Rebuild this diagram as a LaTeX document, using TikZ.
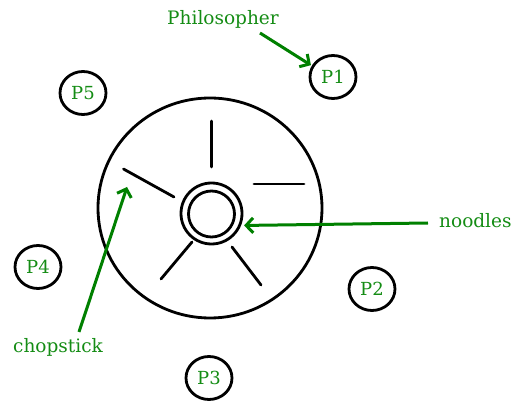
\documentclass[tikz,border=0pt]{standalone}
\usepackage{fontspec}
\setmainfont{DejaVu Serif}
\usetikzlibrary{shapes.geometric,arrows.meta,calc}
\definecolor{grn}{RGB}{0,128,0}
\definecolor{grntxt}{RGB}{20,140,20}
\begin{document}
\begin{tikzpicture}[x=1pt,y=-1pt,
  phil/.style={draw=black,line width=2.8pt,ellipse,inner sep=0pt,minimum width=46pt,minimum height=43pt,text=grntxt,font=\fontsize{18}{18}\selectfont},
  lbl/.style={text=grntxt,inner sep=0pt,font=\fontsize{18.5}{18.5}\selectfont},
  stick/.style={line width=2.8pt,line cap=round},
  garrow/.style={draw=grn,line width=3pt,-{Straight Barb[length=7pt,width=15pt,line width=3pt]}}]
\useasboundingbox (0,0) rectangle (512,403);
% table
\node[draw,line width=2.8pt,ellipse,minimum width=224pt,minimum height=220pt,inner sep=0pt] (table) at (210,208) {};
\node[draw,line width=2.8pt,circle,minimum size=61pt,inner sep=0pt] (bowlout) at (211.5,213.5) {};
\node[draw,line width=2.8pt,circle,minimum size=46pt,inner sep=0pt] (bowlin) at (211.5,214) {};
% chopsticks
\draw[stick] (211.7,121) -- (211.7,167);
\draw[stick] (254,184) -- (304,184);
\draw[stick] (123.5,169) -- (174,197);
\draw[stick] (192,242) -- (161,279);
\draw[stick] (232,247) -- (261,285);
% philosophers
\node[phil] (P1) at (333,77) {P1};
\node[phil] (P2) at (372,289) {P2};
\node[phil] (P3) at (209,378) {P3};
\node[phil] (P4) at (38,267) {P4};
\node[phil] (P5) at (83,93) {P5};
% labels
\node[lbl] (philo) at (223,19) {Philosopher};
\node[lbl,anchor=west] (noodles) at (439,221) {noodles};
\node[lbl] (chop) at (58,347) {chopstick};
\coordinate (philstart) at (260,33);
\coordinate (chopstart) at (79,332);
\coordinate (choptip) at (127,187);
\coordinate (noodstart) at (428,223);
\draw[garrow,shorten >=1pt] (philstart) -- (P1.152);
\draw[garrow] (noodstart) -- ($(bowlout.-22)+(3,0)$);
\draw[garrow] (chopstart) -- (choptip);
\end{tikzpicture}
\end{document}
